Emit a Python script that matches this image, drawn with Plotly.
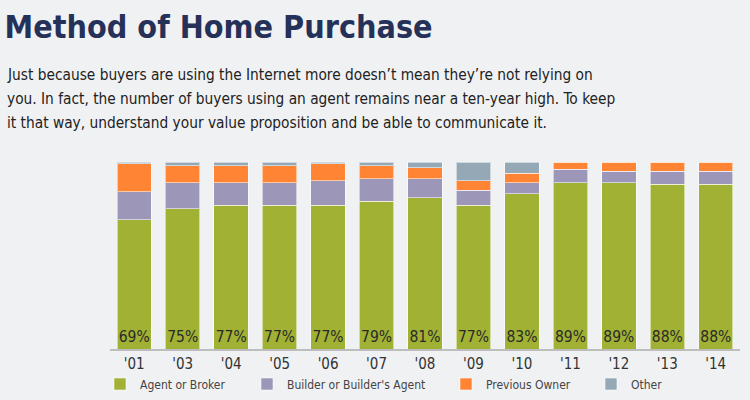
import plotly.graph_objects as go

years = ["'01", "'03", "'04", "'05", "'06", "'07", "'08", "'09", "'10", "'11", "'12", "'13", "'14"]
agent = [69, 75, 77, 77, 77, 79, 81, 77, 83, 89, 89, 88, 88]
builder = [15, 14, 12, 12, 13, 12, 10, 8, 6, 7, 6, 7, 7]
previous_owner = [15, 9, 9, 9, 9, 7, 6, 5, 5, 4, 5, 5, 5]
other = [1, 2, 2, 2, 1, 2, 3, 10, 6, 0, 0, 0, 0]

series = [
    ("Agent or Broker", agent, "#A0B133"),
    ("Builder or Builder's Agent", builder, "#9C96B9"),
    ("Previous Owner", previous_owner, "#FF8534"),
    ("Other", other, "#95A8B6"),
]

paragraph = [
    "Just because buyers are using the Internet more doesn’t mean they’re not relying on",
    "you. In fact, the number of buyers using an agent remains near a ten-year high. To keep",
    "it that way, understand your value proposition and be able to communicate it.",
]

FONT = "DejaVu Sans Condensed, Liberation Sans Narrow, sans-serif"
L, R = 110, 740
W, H = 750, 400
T, B = 162, 349
legend_px = [100, 247, 446, 591]

fig = go.Figure()
for i, (name, vals, color) in enumerate(series):
    kw = {}
    if i == 0:
        kw = dict(text=[f"{v}%" for v in vals], textposition="inside",
                  insidetextanchor="start", constraintext="none", textangle=0,
                  textfont=dict(family=FONT, size=15.5, color="#2A2A2A"))
    fig.add_trace(go.Bar(
        x=years, y=vals, name=name,
        marker=dict(color=color, line=dict(color="rgba(255,255,255,0.55)", width=1)),
        legend="legend" if i == 0 else f"legend{i+1}",
        hoverinfo="skip", **kw))

layout_legends = {}
for i, px in enumerate(legend_px):
    key = "legend" if i == 0 else f"legend{i+1}"
    layout_legends[key] = dict(
        x=px / W, xanchor="left", y=(H - 384) / H, yanchor="middle",
        orientation="h", bgcolor="rgba(0,0,0,0)",
        font=dict(family=FONT, size=12, color="#444444"))

fig.update_layout(
    barmode="stack", bargap=0.29,
    width=W, height=H,
    margin=dict(l=0, r=0, t=0, b=0),
    paper_bgcolor="#F0F1F3", plot_bgcolor="rgba(0,0,0,0)",
    title=dict(text="Method of Home Purchase", x=0.006, xanchor="left",
               xref="container", y=0.962, yanchor="top", yref="container",
               font=dict(family=FONT, size=32, color="#263159", weight="bold")),
    showlegend=True,
    **layout_legends,
)
for k, line in enumerate(paragraph):
    yc = 75 + 24 * k
    fig.add_annotation(
        text=line, xref="paper", yref="paper", x=5 / W, xanchor="left",
        y=(H - yc) / H, yanchor="middle", align="left", showarrow=False,
        font=dict(family=FONT, size=15.3, color="#222222"))

fig.update_xaxes(domain=[L / W, R / W], showline=True, linecolor="#BDBDBD", linewidth=2,
                 ticks="", automargin=False,
                 tickfont=dict(family=FONT, size=15, color="#333333"), showgrid=False)
fig.update_yaxes(domain=[(H - B) / H, (H - T) / H], range=[0, 100], visible=False)

fig.write_html("out.html")
